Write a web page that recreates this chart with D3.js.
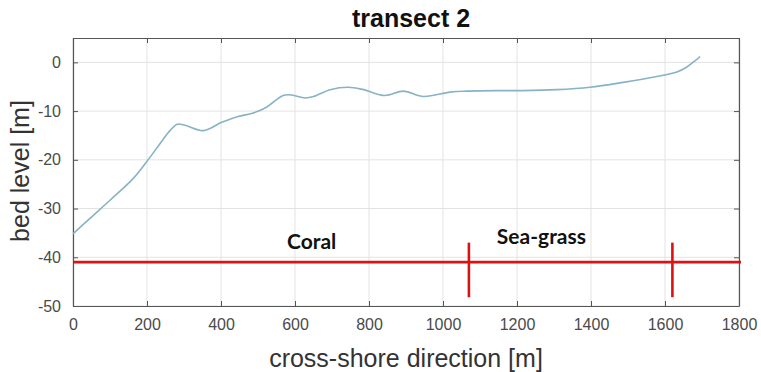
<!DOCTYPE html>
<html>
<head>
<meta charset="utf-8">
<script src="https://cdn.jsdelivr.net/npm/d3@7"></script>
<style>
  html, body { margin: 0; padding: 0; background: #fff; }
  svg { display: block; }
</style>
</head>
<body>
<svg id="chart" width="761" height="372"></svg>
<script>
// ---- data ----
const titleText = "transect 2";
const xLabelText = "cross-shore direction [m]";
const yLabelText = "bed level [m]";
const xTicks = [0, 200, 400, 600, 800, 1000, 1200, 1400, 1600, 1800];
const yTicks = [-50, -40, -30, -20, -10, 0];
const bedX = [0, 46, 100, 163, 199, 235, 262, 282, 303, 352, 402, 442, 487, 523, 568, 591, 627, 650, 695, 744, 785, 843, 893, 947, 1019, 1064, 1154, 1217, 1307, 1397, 1487, 1578, 1632, 1658, 1681, 1695];
const bedY = [-35.2, -32.0, -28.3, -23.8, -20.4, -16.7, -14.0, -12.7, -12.9, -14.0, -12.3, -11.2, -10.4, -9.2, -6.8, -6.7, -7.3, -7.0, -5.6, -5.1, -5.6, -6.8, -5.9, -7.0, -6.1, -5.9, -5.8, -5.8, -5.6, -5.1, -4.1, -2.9, -2.0, -1.0, 0.3, 1.2];
const zoneLevel = -41;
const zoneEdges = [0, 1800];
const zoneMarkers = [1070, 1620];
const markerSpan = [-37, -48.2];
const zoneNames = ["Coral", "Sea-grass"];
const zoneLabelX = [645, 1266];
const zoneLabelY = [-38.2, -37.2];

// ---- layout ----
const svg = d3.select("#chart");
const L = 73, R = 739, T = 38, B = 306;
const x = d3.scaleLinear().domain([0, 1800]).range([L, R]);
const y = d3.scaleLinear().domain([-50, 5]).range([B, T]);

const axisColor = "#555";
const tickText = "#4a4a4a";

// grid
const grid = svg.append("g");
grid.selectAll("line.gx").data(xTicks).join("line")
  .attr("x1", d => x(d)).attr("x2", d => x(d))
  .attr("y1", T).attr("y2", B)
  .attr("stroke", "#e3e3e3").attr("stroke-width", 1);
grid.selectAll("line.gy").data(yTicks).join("line")
  .attr("x1", L).attr("x2", R)
  .attr("y1", d => y(d)).attr("y2", d => y(d))
  .attr("stroke", "#e3e3e3").attr("stroke-width", 1);

// axes
const fontAxis = "'Liberation Sans', Arial, sans-serif";
const xAxis = d3.axisBottom(x).tickValues(xTicks).tickFormat(d3.format("d")).tickSizeInner(-5).tickSizeOuter(0).tickPadding(13);
const yAxis = d3.axisLeft(y).tickValues(yTicks).tickFormat(d => String(d)).tickSizeInner(-5).tickSizeOuter(0).tickPadding(12);
const gx = svg.append("g").attr("transform", `translate(0,${B})`).call(xAxis);
const gy = svg.append("g").attr("transform", `translate(${L},0)`).call(yAxis);
const gxt = svg.append("g").attr("transform", `translate(0,${T})`)
  .call(d3.axisTop(x).tickValues(xTicks).tickSizeInner(-5).tickSizeOuter(0).tickFormat(""));
const gyr = svg.append("g").attr("transform", `translate(${R},0)`)
  .call(d3.axisRight(y).tickValues(yTicks).tickSizeInner(-5).tickSizeOuter(0).tickFormat(""));
[gx, gy, gxt, gyr].forEach(g => {
  g.select(".domain").attr("stroke", axisColor).attr("stroke-width", 1.2);
  g.selectAll(".tick line").attr("stroke", axisColor);
  g.selectAll(".tick text").attr("fill", tickText).style("font-family", fontAxis).style("font-size", "16px");
});

// bed profile
const line = d3.line().x((d, i) => x(bedX[i])).y(d => y(d)).curve(d3.curveCatmullRom.alpha(0.5));
svg.append("path").datum(bedY)
  .attr("d", line)
  .attr("fill", "none")
  .attr("stroke", "#86b3c6")
  .attr("stroke-width", 1.6);

// zone lines
const red = "#dd1111";
svg.append("line")
  .attr("x1", x(zoneEdges[0])).attr("x2", x(zoneEdges[1]) + 2)
  .attr("y1", y(zoneLevel)).attr("y2", y(zoneLevel))
  .attr("stroke", red).attr("stroke-width", 2.6);
svg.selectAll("line.marker").data(zoneMarkers).join("line")
  .attr("x1", d => x(d)).attr("x2", d => x(d))
  .attr("y1", y(markerSpan[0])).attr("y2", y(markerSpan[1]))
  .attr("stroke", red).attr("stroke-width", 2.6);
svg.selectAll("text.zone").data(zoneNames).join("text")
  .attr("x", (d, i) => x(zoneLabelX[i]))
  .attr("y", (d, i) => y(zoneLabelY[i]))
  .attr("text-anchor", "middle")
  .style("font-family", "Lato, 'Open Sans', sans-serif")
  .style("font-weight", "bold")
  .style("font-size", "21px")
  .attr("fill", "#111")
  .text(d => d);

// title & labels
svg.append("text").attr("x", 411).attr("y", 27).attr("text-anchor", "middle")
  .style("font-family", fontAxis).style("font-weight", "bold").style("font-size", "25px")
  .attr("fill", "#111").text(titleText);
svg.append("text").attr("x", 406).attr("y", 367).attr("text-anchor", "middle")
  .style("font-family", fontAxis).style("font-size", "25px")
  .attr("fill", "#333").text(xLabelText);
svg.append("text").attr("transform", `translate(29,171) rotate(-90)`).attr("text-anchor", "middle")
  .style("font-family", fontAxis).style("font-size", "25px")
  .attr("fill", "#333").text(yLabelText);
</script>
</body>
</html>
